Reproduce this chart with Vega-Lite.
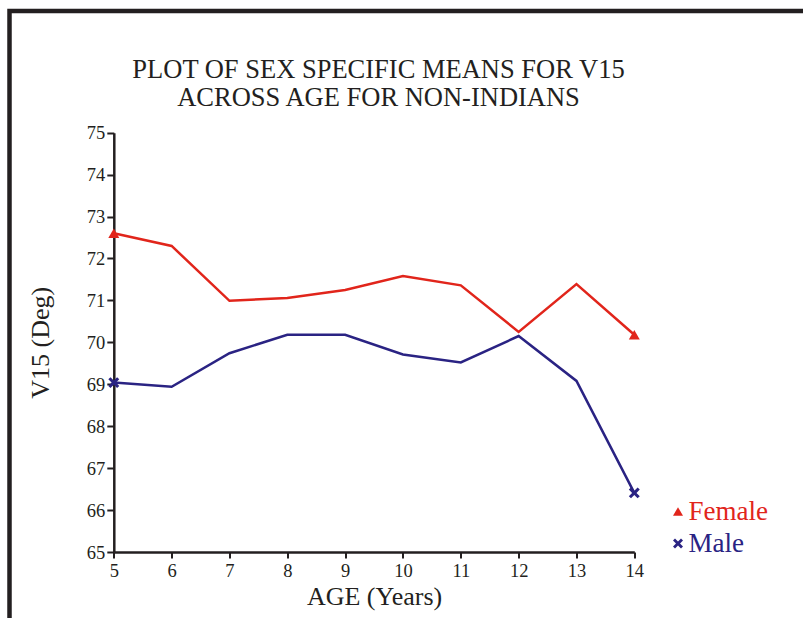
{
  "$schema": "https://vega.github.io/schema/vega-lite/v6.json",
  "autosize": "none",
  "padding": {"left": 9.5, "top": 11, "right": -4.5, "bottom": -5},
  "width": 798,
  "height": 612,
  "background": "white",
  "title": {
    "text": ["PLOT OF SEX SPECIFIC MEANS FOR V15", "ACROSS AGE FOR NON-INDIANS"],
    "font": "Liberation Serif",
    "fontSize": 26.5,
    "fontWeight": "normal",
    "lineHeight": 27.5,
    "color": "#231f20",
    "anchor": "middle",
    "frame": "group",
    "baseline": "top",
    "offset": 0,
    "dx": -30,
    "dy": 100
  },
  "data": {
    "values": [
      {"age": 5, "sex": "Female", "v15": 72.6},
      {"age": 6, "sex": "Female", "v15": 72.3},
      {"age": 7, "sex": "Female", "v15": 70.99},
      {"age": 8, "sex": "Female", "v15": 71.06},
      {"age": 9, "sex": "Female", "v15": 71.25},
      {"age": 10, "sex": "Female", "v15": 71.58},
      {"age": 11, "sex": "Female", "v15": 71.36},
      {"age": 12, "sex": "Female", "v15": 70.25},
      {"age": 13, "sex": "Female", "v15": 71.39},
      {"age": 14, "sex": "Female", "v15": 70.18},
      {"age": 5, "sex": "Male", "v15": 69.04},
      {"age": 6, "sex": "Male", "v15": 68.94},
      {"age": 7, "sex": "Male", "v15": 69.74},
      {"age": 8, "sex": "Male", "v15": 70.18},
      {"age": 9, "sex": "Male", "v15": 70.18},
      {"age": 10, "sex": "Male", "v15": 69.71},
      {"age": 11, "sex": "Male", "v15": 69.52},
      {"age": 12, "sex": "Male", "v15": 70.15},
      {"age": 13, "sex": "Male", "v15": 69.08},
      {"age": 14, "sex": "Male", "v15": 66.41}
    ]
  },
  "encoding": {
    "x": {
      "field": "age",
      "type": "quantitative",
      "scale": {"domain": [5, 14], "range": [104.3, 624.8], "nice": false, "zero": false},
      "axis": {
        "title": "AGE (Years)",
        "values": [5, 6, 7, 8, 9, 10, 11, 12, 13, 14],
        "offset": -71,
        "tickSize": 6,
        "labelPadding": 3,
        "titlePadding": 4,
        "labelFlush": false,
        "labelOverlap": false
      }
    },
    "y": {
      "field": "v15",
      "type": "quantitative",
      "scale": {"domain": [65, 75], "range": [541, 121.7], "nice": false, "zero": false},
      "axis": {
        "title": "V15 (Deg)",
        "values": [65, 66, 67, 68, 69, 70, 71, 72, 73, 74, 75],
        "offset": -104.3,
        "tickSize": 7,
        "labelPadding": 2,
        "titlePadding": 33,
        "labelFlush": false,
        "labelOverlap": false
      }
    },
    "color": {
      "field": "sex",
      "type": "nominal",
      "scale": {"domain": ["Female", "Male"], "range": ["#e1251b", "#2a2383"]},
      "legend": {
        "title": null,
        "orient": "none",
        "legendX": 655,
        "legendY": 487,
        "labelFont": "Liberation Serif",
        "labelFontSize": 27,
        "labelOffset": -3,
        "rowPadding": 4,
        "symbolSize": 100,
        "symbolStrokeWidth": 0,
        "encode": {"labels": {"update": {"fill": {"signal": "datum.value === 'Female' ? '#e1251b' : '#2a2383'"}}}}
      }
    }
  },
  "layer": [
    {
      "mark": {"type": "line", "strokeWidth": 2.5}
    },
    {
      "transform": [{"filter": "datum.age == 5 || datum.age == 14"}],
      "mark": {"type": "point", "filled": true, "opacity": 1, "size": 120},
      "encoding": {
        "shape": {
          "field": "sex",
          "type": "nominal",
          "scale": {"domain": ["Female", "Male"], "range": ["triangle-up", "M-1,-0.6L-0.6,-1L0,-0.4L0.6,-1L1,-0.6L0.4,0L1,0.6L0.6,1L0,0.4L-0.6,1L-1,0.6L-0.4,0Z"]},
          "legend": {
            "title": null,
            "orient": "none",
            "legendX": 655,
            "legendY": 487,
            "labelFont": "Liberation Serif",
            "labelFontSize": 27,
            "labelOffset": -3,
            "rowPadding": 4,
            "symbolSize": 100,
            "symbolStrokeWidth": 0,
            "encode": {"labels": {"update": {"fill": {"signal": "datum.value === 'Female' ? '#e1251b' : '#2a2383'"}}}}
          }
        }
      }
    }
  ],
  "config": {
    "view": {"stroke": "#231f20", "strokeWidth": 4.5, "fill": "white"},
    "axis": {
      "grid": false,
      "domainColor": "#231f20",
      "domainWidth": 2.5,
      "tickColor": "#231f20",
      "tickWidth": 2,
      "labelFont": "Liberation Serif",
      "labelFontSize": 18.5,
      "labelColor": "#231f20",
      "titleFont": "Liberation Serif",
      "titleFontSize": 26,
      "titleFontWeight": "normal",
      "titleColor": "#231f20"
    }
  }
}
